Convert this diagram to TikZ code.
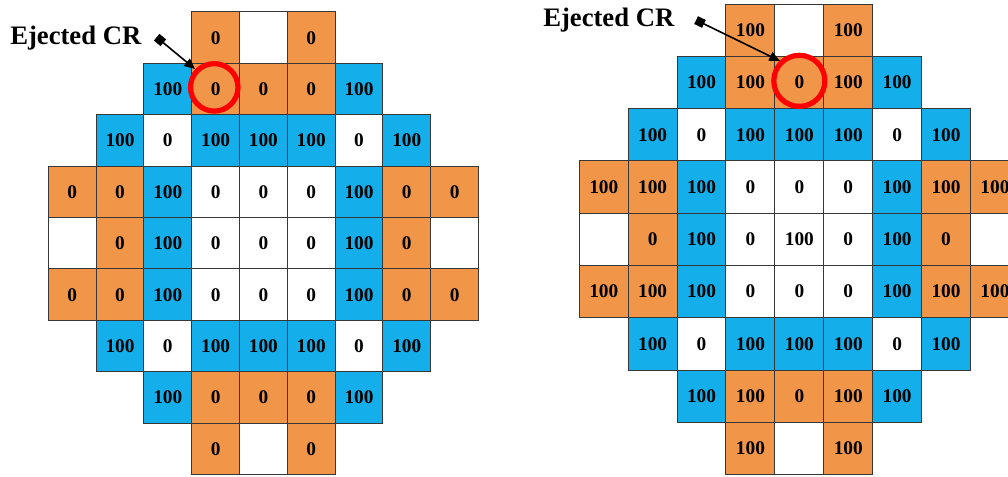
\documentclass[tikz,border=0pt]{standalone}
\usepackage{fontspec}
\setmainfont{Liberation Serif}
\usetikzlibrary{arrows.meta}
\definecolor{cO}{RGB}{241,149,72}
\definecolor{cB}{RGB}{20,175,235}
\definecolor{cW}{RGB}{255,255,255}
\definecolor{cline}{RGB}{55,55,55}
\begin{document}
\begin{tikzpicture}[x=0.75pt,y=-0.75pt,
  cellL/.style={draw=cline, line width=0.75pt, minimum width=35.85pt, minimum height=38.55pt, inner sep=0pt, font=\fontsize{14.5}{16}\selectfont\bfseries},
  cellR/.style={cellL, minimum width=36.7pt, minimum height=39.2pt},
  ring/.style={circle, draw=red, line width=3.9pt, inner sep=0pt},
  lab/.style={font=\fontsize{20}{24}\selectfont\bfseries, anchor=base west, inner sep=0pt},
  marker/.style={fill=black, inner sep=0pt, minimum size=6.5pt, rectangle},
  ptr/.style={-{Triangle[length=8pt,width=7pt]}, line width=1.2pt}]
\clip (0,0) rectangle (1008,477);
\fill[white] (0,0) rectangle (1008,477);
% left grid
\foreach \r/\cells in {
  0/{3/cO/0,4/cW/{},5/cO/0},
  1/{2/cB/100,3/cO/0,4/cO/0,5/cO/0,6/cB/100},
  2/{1/cB/100,2/cW/0,3/cB/100,4/cB/100,5/cB/100,6/cW/0,7/cB/100},
  3/{0/cO/0,1/cO/0,2/cB/100,3/cW/0,4/cW/0,5/cW/0,6/cB/100,7/cO/0,8/cO/0},
  4/{0/cW/{},1/cO/0,2/cB/100,3/cW/0,4/cW/0,5/cW/0,6/cB/100,7/cO/0,8/cW/{}},
  5/{0/cO/0,1/cO/0,2/cB/100,3/cW/0,4/cW/0,5/cW/0,6/cB/100,7/cO/0,8/cO/0},
  6/{1/cB/100,2/cW/0,3/cB/100,4/cB/100,5/cB/100,6/cW/0,7/cB/100},
  7/{2/cB/100,3/cO/0,4/cO/0,5/cO/0,6/cB/100},
  8/{3/cO/0,4/cW/{},5/cO/0}}
  \foreach \c/\k/\t in \cells
    \node[cellL, fill=\k] (L\r\c) at ({48.3+47.8*(\c+0.5)},{12+51.4*(\r+0.5)}) {\t};
% right grid
\foreach \r/\cells in {
  0/{3/cO/100,4/cW/{},5/cO/100},
  1/{2/cB/100,3/cO/100,4/cO/0,5/cO/100,6/cB/100},
  2/{1/cB/100,2/cW/0,3/cB/100,4/cB/100,5/cB/100,6/cW/0,7/cB/100},
  3/{0/cO/100,1/cO/100,2/cB/100,3/cW/0,4/cW/0,5/cW/0,6/cB/100,7/cO/100,8/cO/100},
  4/{0/cW/{},1/cO/0,2/cB/100,3/cW/0,4/cW/100,5/cW/0,6/cB/100,7/cO/0,8/cW/{}},
  5/{0/cO/100,1/cO/100,2/cB/100,3/cW/0,4/cW/0,5/cW/0,6/cB/100,7/cO/100,8/cO/100},
  6/{1/cB/100,2/cW/0,3/cB/100,4/cB/100,5/cB/100,6/cW/0,7/cB/100},
  7/{2/cB/100,3/cO/100,4/cO/0,5/cO/100,6/cB/100},
  8/{3/cO/100,4/cW/{},5/cO/100}}
  \foreach \c/\k/\t in \cells
    \node[cellR, fill=\k] (R\r\c) at ({579.3+48.9*(\c+0.5)},{4+52.3*(\r+0.5)}) {\t};
% rings
\node[ring, minimum size=35.6pt] (ringL) at ([xshift=-1pt,yshift=1.3pt]L13.center) {};
\node[ring, minimum size=38.3pt] (ringR) at ([yshift=1.2pt]R14.center) {};
% labels and pointers
\node[lab] (labL) at (10,45) {Ejected CR};
\node[lab] (labR) at (543,27) {Ejected CR};
\node[marker, rotate=-40] (mL) at (160,40) {};
\node[marker, rotate=-26] (mR) at (700,22) {};
\coordinate (tL) at (195,69);
\coordinate (tR) at (780,61);
\draw[ptr] (mL.center) -- (tL);
\draw[ptr] (mR.center) -- (tR);
\end{tikzpicture}
\end{document}
